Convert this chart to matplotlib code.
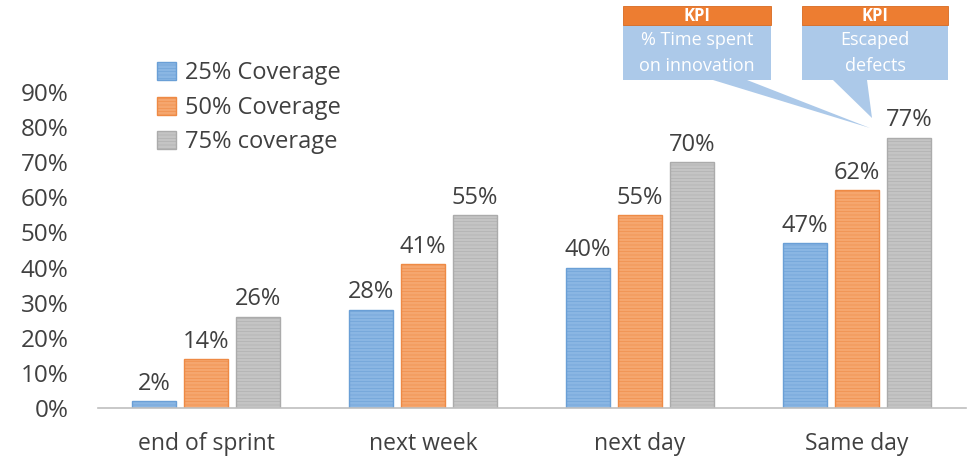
import numpy as np
import matplotlib.pyplot as plt
from matplotlib.patches import Rectangle, Polygon

plt.rcParams['font.family'] = ['Open Sans', 'DejaVu Sans']
plt.rcParams['hatch.linewidth'] = 0.4

categories = ["end of sprint", "next week", "next day", "Same day"]
series_names = ["25% Coverage", "50% Coverage", "75% coverage"]
cov25 = [0.02, 0.28, 0.40, 0.47]
cov50 = [0.14, 0.41, 0.55, 0.62]
cov75 = [0.26, 0.55, 0.70, 0.77]
yticks = [0, 0.1, 0.2, 0.3, 0.4, 0.5, 0.6, 0.7, 0.8, 0.9]

face = ["#8ab6e3", "#f5a66e", "#c4c4c4"]
edge = ["#6a9fd6", "#ee8a45", "#ababab"]
text_col = "#404040"

W, H = 974, 470
fig = plt.figure(figsize=(W / 100, H / 100), dpi=100)
ax = fig.add_axes([97.5 / W, (H - 408) / H, 868 / W, 408 / H])

x = np.arange(len(categories))
bw = 0.2
offs = [-0.24, 0, 0.24]
for vals, off, fc, ec, name in zip([cov25, cov50, cov75], offs, face, edge, series_names):
    ax.bar(x + off, vals, bw, color=fc, edgecolor=ec, linewidth=1.0,
           hatch='-----', label=name)
    for xi, v in zip(x + off, vals):
        ax.text(xi, v + 0.015, f"{round(v * 100)}%", ha='center', va='bottom',
                fontsize=17, color=text_col)

ax.set_xlim(-0.5, 3.5)
ax.set_ylim(0, 408 / 316 * 0.9)
ax.set_yticks(yticks)
ax.set_yticklabels([f"{round(t * 100)}%" for t in yticks])
ax.set_xticks(x)
ax.set_xticklabels(categories)
ax.tick_params(axis='y', length=0, pad=21, labelsize=17.5, labelcolor=text_col)
ax.tick_params(axis='x', length=0, pad=17, labelsize=16.5, labelcolor=text_col)
for s in ['top', 'right', 'left']:
    ax.spines[s].set_visible(False)
ax.spines['bottom'].set_color("#bfbfbf")
ax.spines['bottom'].set_linewidth(1.2)
ax.patch.set_alpha(0)

ax.legend(loc='upper left', bbox_to_anchor=(38 / 868, 1 - 40 / 408), frameon=False,
          fontsize=17, handlelength=0.8, handleheight=0.8, handletextpad=0.4,
          labelspacing=0.45, labelcolor=text_col)

# callouts drawn in pixel space
ov = fig.add_axes([0, 0, 1, 1])
ov.set_xlim(0, W)
ov.set_ylim(H, 0)
ov.axis('off')
ov.patch.set_alpha(0)

box_col = "#acc9e9"
head_col = "#ed7d31"
callouts = [
    (623, 771, "% Time spent\non innovation", [(713, 80), (747, 80), (870, 128)]),
    (802, 948, "Escaped\ndefects", [(833, 80), (867, 80), (872, 118)]),
]
for x0, x1, label, tri in callouts:
    ov.add_patch(Polygon(tri, closed=True, facecolor=box_col, edgecolor='none'))
    ov.add_patch(Rectangle((x0, 25), x1 - x0, 55, facecolor=box_col, edgecolor='none'))
    ov.add_patch(Rectangle((x0, 6), x1 - x0, 19, facecolor=head_col, edgecolor='#d86a20', linewidth=0.6))
    ov.text((x0 + x1) / 2, 16, "KPI", ha='center', va='center', color='white',
            fontsize=12, fontweight='bold')
    ov.text((x0 + x1) / 2, 53, label, ha='center', va='center', color='white',
            fontsize=13, linespacing=1.6)

fig.savefig("out.png", dpi=100)
